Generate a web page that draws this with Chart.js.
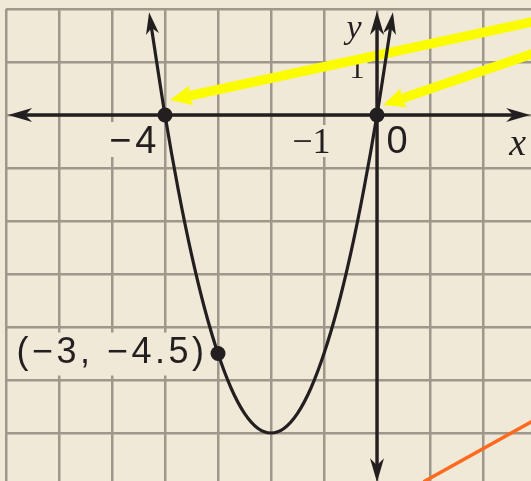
<!DOCTYPE html>
<html><head><meta charset="utf-8">
<script src="https://cdn.jsdelivr.net/npm/chart.js@4"></script>
<style>html,body{margin:0;padding:0;background:#f0e9d7;overflow:hidden}canvas{display:block}</style>
</head><body>
<canvas id="c" width="531" height="481"></canvas>
<script>
// ---------------- data ----------------
const xRange = [-7, 2.9057];
const yRange = [-6.9057, 2];
const parabolaX = [-4.3, -4, -3.75, -3.5, -3.25, -3, -2.75, -2.5, -2.25, -2, -1.75, -1.5, -1.25, -1, -0.75, -0.5, -0.25, 0, 0.3];
const parabolaY = [1.94, 0, -1.41, -2.63, -3.66, -4.5, -5.16, -5.63, -5.91, -6, -5.91, -5.63, -5.16, -4.5, -3.66, -2.63, -1.41, 0, 1.94];
const keyPointX = [-4, 0, -3];
const keyPointY = [0, 0, -4.5];
const keyPointLabels = ['', '', '(−3, −4.5)'];
const xTickValues = [-4, -1, 0];
const xTickLabels = ['−4', '−1', '0'];
const yTickValues = [1];
const yTickLabels = ['1'];
const axisNames = ['x', 'y'];
const xAxisX = [-6.96, 2.89];
const yAxisY = [1.96, -6.93];
const calloutStartX = [2.98, 2.98];
const calloutStartY = [1.77, 1.17];
const calloutTipX = [-3.906, 0.113];
const calloutTipY = [0.283, 0.189];
const orangeX = [0.88, 2.95];
const orangeY = [-6.92, -5.77];

// ---------------- styles ----------------
const INK = '#231f20', BG = '#f0e9d7', GRID = '#9e988c', YELLOW = '#fcfc00', ORANGE = '#ff6a1f';
const SANS = '"Liberation Sans", Arial, sans-serif';
const SERIF = '"Liberation Serif", "Times New Roman", serif';
const xTickStyle = [
  {font: '38px ' + SANS, align: 'right', dx: -4.5, dy: 38, ls: 4},
  {font: '36px ' + SERIF, align: 'right', dx: 6.6, dy: 38, ls: 0},
  {font: '38px ' + SANS, align: 'left', dx: 9.4, dy: 38, ls: 0}
];
const yTickStyle = [{font: '30px ' + SERIF, align: 'center', dx: -20, dy: 16, ls: 0}];
const axisNameStyle = [
  {font: 'italic 38px ' + SERIF, align: 'left', dx: -21, dy: 40, ls: 0},
  {font: 'italic 34px ' + SERIF, align: 'center', dx: -23, dy: 27, ls: 0}
];
const pointLabelStyle = {font: '36px ' + SANS, align: 'right', dx: -10.5, dy: 10, ls: 3.5};

function drawLabel(ctx, text, x, y, st, box) {
  if (!text) return;
  ctx.save();
  ctx.font = st.font;
  ctx.letterSpacing = st.ls + 'px';
  ctx.textAlign = st.align;
  ctx.textBaseline = 'alphabetic';
  const tx = x + st.dx, ty = y + st.dy;
  if (box) {
    const m = ctx.measureText(text);
    const p = 4;
    ctx.fillStyle = BG;
    ctx.fillRect(tx - m.actualBoundingBoxLeft - p, ty - m.actualBoundingBoxAscent - p,
      m.actualBoundingBoxLeft + m.actualBoundingBoxRight + 2 * p,
      m.actualBoundingBoxAscent + m.actualBoundingBoxDescent + 2 * p);
  }
  ctx.fillStyle = INK;
  ctx.fillText(text, tx, ty);
  ctx.restore();
}

const bgPlugin = {
  id: 'bg',
  beforeDraw(chart) {
    const c = chart.ctx; c.save(); c.fillStyle = BG; c.fillRect(0, 0, chart.width, chart.height); c.restore();
  }
};

const labelPlugin = {
  id: 'labels',
  beforeDatasetsDraw(chart) {
    const ctx = chart.ctx, sx = chart.scales.x, sy = chart.scales.y;
    xTickValues.forEach((v, i) => drawLabel(ctx, xTickLabels[i], sx.getPixelForValue(v), sy.getPixelForValue(0), xTickStyle[i], true));
    yTickValues.forEach((v, i) => drawLabel(ctx, yTickLabels[i], sx.getPixelForValue(0), sy.getPixelForValue(v), yTickStyle[i], true));
    drawLabel(ctx, axisNames[0], sx.getPixelForValue(xAxisX[1]), sy.getPixelForValue(0), axisNameStyle[0], false);
    drawLabel(ctx, axisNames[1], sx.getPixelForValue(0), sy.getPixelForValue(yAxisY[0]), axisNameStyle[1], false);
    keyPointLabels.forEach((t, i) => drawLabel(ctx, t, sx.getPixelForValue(keyPointX[i]), sy.getPixelForValue(keyPointY[i]), pointLabelStyle, true));
  }
};

function headsFor(chart, index) {
  const ds = chart.data.datasets[index];
  const pts = chart.getDatasetMeta(index).data;
  const out = [];
  const n = pts.length;
  ds.arrowHead.ends.forEach(e => {
    let a, b;
    if (e === 'start') { a = pts[0]; b = pts[1]; } else { a = pts[n - 1]; b = pts[n - 2]; }
    const dx = a.x - b.x, dy = a.y - b.y, L = Math.hypot(dx, dy) || 1;
    out.push({x: a.x, y: a.y, ux: dx / L, uy: dy / L});
  });
  return out;
}

const arrowPlugin = {
  id: 'arrowHeads',
  beforeDatasetDraw(chart, args) {
    const ds = chart.data.datasets[args.index];
    if (!ds.arrowHead) return;
    const ctx = chart.ctx, s = ds.arrowHead;
    const W = ds.borderWidth / 2 + 3;
    ctx.save();
    ctx.beginPath();
    ctx.rect(0, 0, chart.width, chart.height);
    headsFor(chart, args.index).forEach(h => {
      const nx = -h.uy, ny = h.ux;
      const fx = h.x + h.ux * 3, fy = h.y + h.uy * 3;
      const bx = h.x - h.ux * s.back, by = h.y - h.uy * s.back;
      ctx.moveTo(fx + nx * W, fy + ny * W);
      ctx.lineTo(bx + nx * W, by + ny * W);
      ctx.lineTo(bx - nx * W, by - ny * W);
      ctx.lineTo(fx - nx * W, fy - ny * W);
      ctx.closePath();
    });
    ctx.clip('evenodd');
  },
  afterDatasetDraw(chart, args) {
    const ds = chart.data.datasets[args.index];
    if (!ds.arrowHead) return;
    const ctx = chart.ctx, s = ds.arrowHead;
    ctx.restore();
    ctx.save();
    ctx.fillStyle = s.color;
    headsFor(chart, args.index).forEach(h => {
      const nx = -h.uy, ny = h.ux;
      const bx = h.x - h.ux * s.len, by = h.y - h.uy * s.len;
      ctx.beginPath();
      ctx.moveTo(h.x, h.y);
      ctx.lineTo(bx + nx * s.hw, by + ny * s.hw);
      ctx.lineTo(h.x - h.ux * s.back, h.y - h.uy * s.back);
      ctx.lineTo(bx - nx * s.hw, by - ny * s.hw);
      ctx.closePath();
      ctx.fill();
    });
    ctx.restore();
  }
};

const lineBase = {showLine: true, pointRadius: 0, pointHoverRadius: 0, clip: false, fill: false, borderCapStyle: 'butt', borderJoinStyle: 'round'};
const blackHead = {ends: ['start', 'end'], len: 24, hw: 7, back: 17, color: INK};

const datasets = [
  {label: 'points', data: keyPointX.map((x, i) => ({x, y: keyPointY[i]})), showLine: false,
   pointRadius: 7.5, pointBackgroundColor: INK, pointBorderWidth: 0, clip: false, order: 0},
  Object.assign({}, lineBase, {label: 'parabola', data: parabolaX.map((x, i) => ({x, y: parabolaY[i]})),
   borderColor: INK, borderWidth: 3.2, cubicInterpolationMode: 'monotone', order: 1,
   arrowHead: {ends: ['start', 'end'], len: 22, hw: 6.5, back: 16, color: INK}}),
  Object.assign({}, lineBase, {label: 'x axis', data: xAxisX.map(x => ({x, y: 0})),
   borderColor: INK, borderWidth: 3.4, order: 2, arrowHead: blackHead}),
  Object.assign({}, lineBase, {label: 'y axis', data: yAxisY.map(y => ({x: 0, y})),
   borderColor: INK, borderWidth: 3.4, order: 2, arrowHead: blackHead})
];
calloutTipX.forEach((tx, i) => {
  datasets.push(Object.assign({}, lineBase, {label: 'callout ' + i,
    data: [{x: calloutStartX[i], y: calloutStartY[i]}, {x: tx, y: calloutTipY[i]}],
    borderColor: YELLOW, borderWidth: 9.5, order: 3,
    arrowHead: {ends: ['end'], len: 22, hw: 10, back: 19, color: YELLOW}}));
});
datasets.push(Object.assign({}, lineBase, {label: 'orange', data: orangeX.map((x, i) => ({x, y: orangeY[i]})),
  borderColor: ORANGE, borderWidth: 3.5, order: 4}));

const axisOpts = (r) => ({
  type: 'linear', min: r[0], max: r[1],
  ticks: {display: false, stepSize: 1, includeBounds: false},
  grid: {color: GRID, lineWidth: 2.5, drawTicks: false},
  border: {display: false}
});

new Chart(document.getElementById('c'), {
  type: 'scatter',
  data: {datasets},
  options: {
    responsive: false, animation: false, events: [],
    layout: {autoPadding: false, padding: {left: 6, top: 9, right: 0, bottom: 0}},
    plugins: {legend: {display: false}, tooltip: {enabled: false}},
    scales: {x: axisOpts(xRange), y: axisOpts(yRange)}
  },
  plugins: [bgPlugin, labelPlugin, arrowPlugin]
});
</script>
</body></html>
